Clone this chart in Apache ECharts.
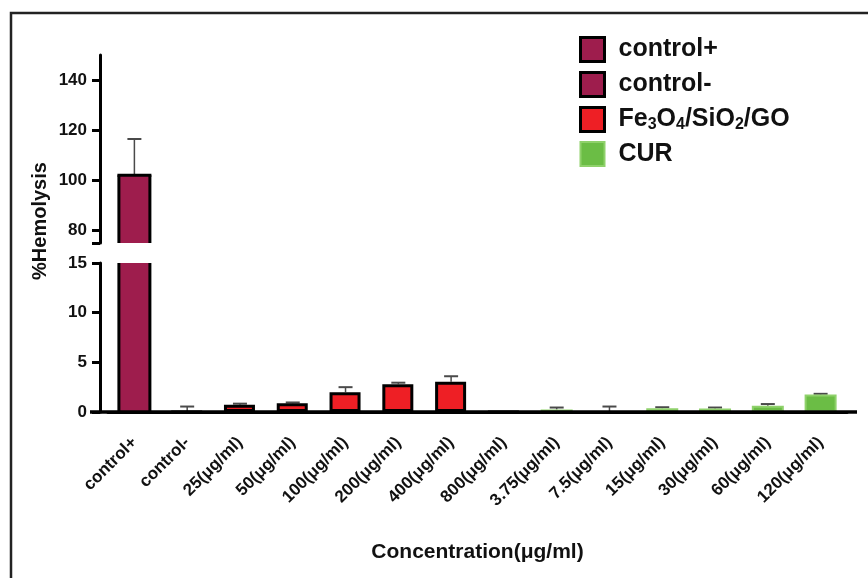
<!DOCTYPE html>
<html>
<head>
<meta charset="utf-8">
<script src="https://cdn.jsdelivr.net/npm/echarts@6/dist/echarts.min.js"></script>
<style>
  html, body { margin: 0; padding: 0; background: #fff; }
  #main { width: 868px; height: 578px; }
</style>
</head>
<body>
<div id="main"></div>
<script>
// 数据
const categories = ['control+', 'control-', '25(μg/ml)', '50(μg/ml)', '100(μg/ml)', '200(μg/ml)', '400(μg/ml)', '800(μg/ml)',
  '3.75(μg/ml)', '7.5(μg/ml)', '15(μg/ml)', '30(μg/ml)', '60(μg/ml)', '120(μg/ml)']
const groups = ['control+', 'control-',
  'Fe3O4/SiO2/GO', 'Fe3O4/SiO2/GO', 'Fe3O4/SiO2/GO', 'Fe3O4/SiO2/GO', 'Fe3O4/SiO2/GO', 'Fe3O4/SiO2/GO',
  'CUR', 'CUR', 'CUR', 'CUR', 'CUR', 'CUR']
const hemolysis = [102, 0, 0.72, 0.88, 2.0, 2.8, 3.05, 0, 0.25, 0, 0.38, 0.35, 0.62, 1.75]
const sdUpper = [14.5, 0.55, 0.12, 0.08, 0.5, 0.15, 0.55, 0, 0.2, 0.55, 0.1, 0.1, 0.18, 0.08]
const legendNames = ['control+', 'control-', 'Fe3O4/SiO2/GO', 'CUR']
const upperTicks = [80, 100, 120, 140]

const FONT = '"Liberation Sans", Arial, sans-serif'
const BAR_W = 31
const styles = {
  'control+': { color: '#9e1d4d', borderColor: '#000', borderWidth: 0 }, // 边框由 outline 画
  'control-': { color: '#9e1d4d', borderColor: '#000', borderWidth: 3 },
  'Fe3O4/SiO2/GO': { color: '#ee1f25', borderColor: '#000', borderWidth: 3 },
  'CUR': { color: '#6bbd45', borderColor: '#8fd16b', borderWidth: 2 }
}

const myChart = echarts.init(document.getElementById('main'))

// 误差线
function errorItem(params, api) {
  const base = api.coord([api.value(0), api.value(1)])
  const top = api.coord([api.value(0), api.value(2)])
  const w = 7
  return {
    type: 'group',
    children: [
      { type: 'line', shape: { x1: base[0], y1: base[1], x2: top[0], y2: top[1] }, style: { stroke: '#4a4a4a', lineWidth: 1.5 } },
      { type: 'line', shape: { x1: top[0] - w, y1: top[1], x2: top[0] + w, y2: top[1] }, style: { stroke: '#4a4a4a', lineWidth: 2 } }
    ]
  }
}

// 断轴处的柱子边框(断口不画线)
function outlineItem(params, api) {
  const cs = params.coordSys
  const p = api.coord([api.value(0), api.value(1)])
  const p0 = api.coord([api.value(0), 0])
  const x1 = p[0] - BAR_W / 2, x2 = p[0] + BAR_W / 2
  const clipTop = p[1] < cs.y
  const top = Math.max(p[1], cs.y)
  const bottom = Math.min(p0[1], cs.y + cs.height)
  const st = { stroke: '#000', lineWidth: 3, fill: null }
  const children = [
    { type: 'line', shape: { x1: x1, y1: bottom, x2: x1, y2: top }, style: st },
    { type: 'line', shape: { x1: x2, y1: bottom, x2: x2, y2: top }, style: st }
  ]
  if (!clipTop) children.push({ type: 'line', shape: { x1: x1 - 1.5, y1: top, x2: x2 + 1.5, y2: top }, style: st })
  return { type: 'group', children }
}

const series = []
legendNames.forEach(name => {
  const data = hemolysis.map((v, i) => groups[i] === name ? v : '-')
  const barWidth = name === 'CUR' ? 32 : BAR_W
  series.push({ name, type: 'bar', xAxisIndex: 1, yAxisIndex: 1, data, barWidth, barGap: '-100%', clip: true, itemStyle: styles[name], z: 2 })
  if (data.some(v => v !== '-' && v >= 75)) {
    series.push({ name, type: 'bar', xAxisIndex: 0, yAxisIndex: 0, data, barWidth, barGap: '-100%', clip: true, itemStyle: styles[name], z: 2 })
  }
})
const outlineData = hemolysis.map((v, i) => [i, v]).filter(d => groups[d[0]] === 'control+')
series.push({ type: 'custom', xAxisIndex: 0, yAxisIndex: 0, renderItem: outlineItem, data: outlineData, encode: { x: 0, y: 1 }, z: 3, clip: false })
series.push({ type: 'custom', xAxisIndex: 1, yAxisIndex: 1, renderItem: outlineItem, data: outlineData, encode: { x: 0, y: 1 }, z: 3, clip: false })

const errLower = [], errUpper = []
hemolysis.forEach((v, i) => {
  if (sdUpper[i] <= 0) return
  if (v >= 75) errUpper.push([i, v, v + sdUpper[i]])
  else errLower.push([i, v, v + sdUpper[i]])
})
series.push({ type: 'custom', xAxisIndex: 1, yAxisIndex: 1, renderItem: errorItem, data: errLower, encode: { x: 0, y: [1, 2] }, z: 1 })
series.push({ type: 'custom', xAxisIndex: 0, yAxisIndex: 0, renderItem: errorItem, data: errUpper, encode: { x: 0, y: [1, 2] }, z: 1 })

const axisLineStyle = { color: '#000', width: 3 }
const tickLabel = { color: '#111', fontSize: 17, fontWeight: 'bold', fontFamily: FONT }

const option = {
  animation: false,
  backgroundColor: '#fff',
  grid: [
    { left: 108, width: 739, top: 55, height: 188 },
    { left: 108, width: 739, top: 263, height: 149 }
  ],
  legend: {
    data: legendNames.map(name => ({ name, itemStyle: { borderColor: styles[name].borderColor, borderWidth: name === 'CUR' ? 2 : 3 } })),
    orient: 'vertical',
    left: 579,
    top: 36,
    padding: 0,
    itemWidth: 24,
    itemHeight: 24,
    itemGap: 8,
    icon: 'rect',
    formatter(name) {
      if (name === 'Fe3O4/SiO2/GO') return '{t|Fe}{s|3}{t|O}{s|4}{t|/SiO}{s|2}{t|/GO}'
      return '{t|' + name + '}'
    },
    textStyle: {
      padding: [0, 0, 0, 9],
      rich: {
        t: { fontSize: 25, fontWeight: 'bold', fontFamily: FONT, color: '#111', lineHeight: 27 },
        s: { fontSize: 16, fontWeight: 'bold', fontFamily: FONT, color: '#111', lineHeight: 12, verticalAlign: 'bottom' }
      }
    }
  },
  xAxis: [
    { type: 'category', gridIndex: 0, data: categories, show: false },
    {
      type: 'category', gridIndex: 1, data: categories, z: 5,
      axisLine: { lineStyle: axisLineStyle },
      axisTick: { alignWithLabel: true, length: 10, lineStyle: { color: '#000', width: 3 } },
      axisLabel: { ...tickLabel, rotate: 45, interval: 0, margin: 28 },
      name: 'Concentration(μg/ml)',
      nameLocation: 'middle',
      nameGap: 130,
      nameTextStyle: { color: '#111', fontSize: 21, fontWeight: 'bold', fontFamily: FONT }
    }
  ],
  yAxis: [
    {
      type: 'value', gridIndex: 0, min: 75, max: 150, offset: 8,
      splitLine: { show: false },
      axisLine: { show: true, lineStyle: axisLineStyle },
      axisTick: { show: true, length: 8, customValues: [75].concat(upperTicks), lineStyle: { color: '#000', width: 3 } },
      axisLabel: { ...tickLabel, margin: 13, customValues: upperTicks }
    },
    {
      type: 'value', gridIndex: 1, min: 0, max: 15, interval: 5, offset: 8,
      splitLine: { show: false },
      axisLine: { show: true, lineStyle: axisLineStyle },
      axisTick: { show: true, length: 8, lineStyle: { color: '#000', width: 3 } },
      axisLabel: { ...tickLabel, margin: 13, showMinLabel: true, showMaxLabel: true }
    }
  ],
  graphic: [
    // 外框
    { type: 'polyline', shape: { points: [[11, 600], [11, 13], [880, 13]] }, style: { stroke: '#222', lineWidth: 2.5, fill: null }, silent: true },
    // x轴延长
    { type: 'line', shape: { x1: 90, y1: 412, x2: 857, y2: 412 }, style: { stroke: '#000', lineWidth: 3.5 }, z: 10, silent: true },
    {
      type: 'text', x: 40, y: 221, rotation: Math.PI / 2,
      style: { text: '%Hemolysis', fill: '#111', font: 'bold 20px ' + FONT, textAlign: 'center', textVerticalAlign: 'middle' },
      silent: true
    }
  ],
  series
}
myChart.setOption(option)
</script>
</body>
</html>
